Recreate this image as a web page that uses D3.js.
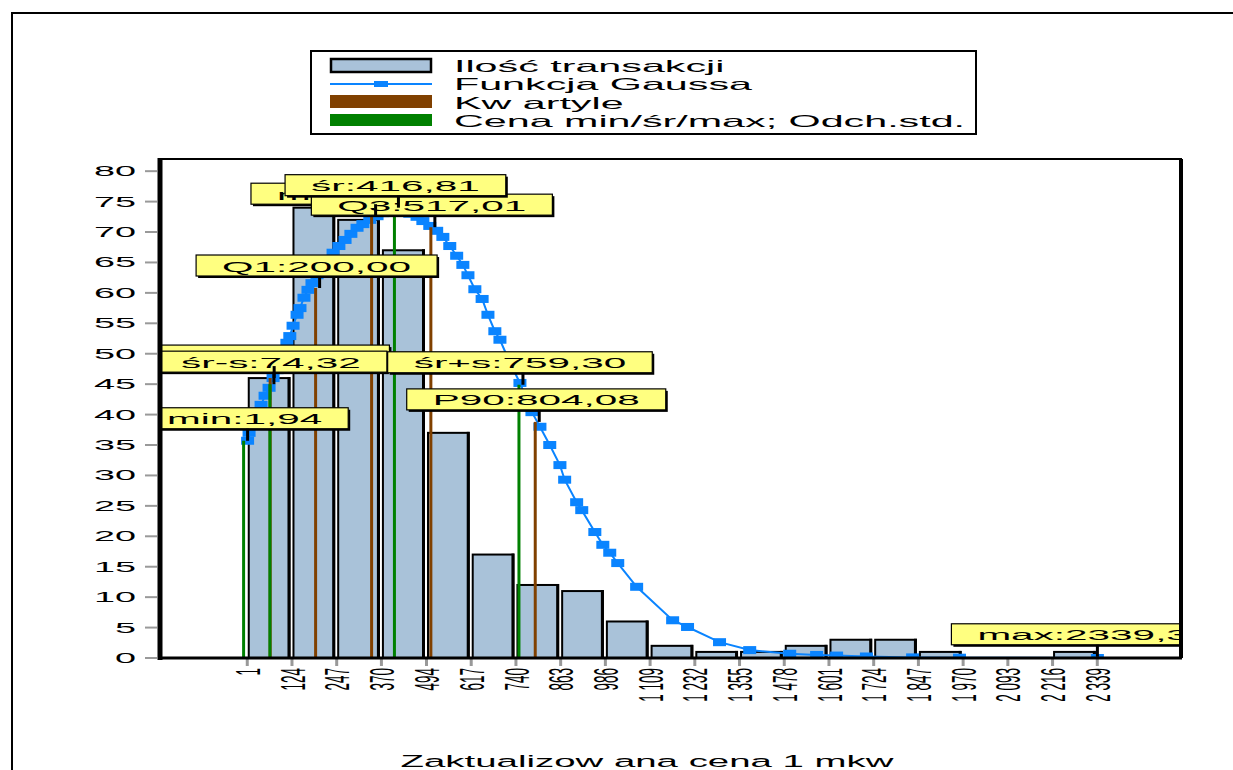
<!DOCTYPE html>
<html>
<head>
<meta charset="utf-8">
<script src="https://cdn.jsdelivr.net/npm/d3@7"></script>
<style>
  body { margin: 0; background: #fff; }
  svg { display: block; font-family: "Liberation Sans", Arial, sans-serif; }
</style>
</head>
<body>
<svg width="1233" height="770"></svg>
<script>
// histogram bins (edges as printed on the x axis) and counts
const binEdges = [1, 124, 247, 370, 494, 617, 740, 863, 986, 1109, 1232, 1355, 1478, 1601, 1724, 1847, 1970, 2093, 2216, 2339];
const tickLabels = ["1", "124", "247", "370", "494", "617", "740", "863", "986", "1 109", "1 232", "1 355", "1 478", "1 601", "1 724", "1 847", "1 970", "2 093", "2 216", "2 339"];
const binCounts = [46, 74, 72, 67, 37, 17, 12, 11, 6, 2, 1, 1, 2, 3, 3, 1, 0, 0, 1];

// gaussian curve points
const gaussPrice = [1.94, 6, 17, 28, 39, 50, 61, 72, 83, 94, 102, 110, 118, 127, 138, 146, 157, 168, 179, 193, 207, 220, 237, 253, 270, 286, 303, 319, 338, 358, 374, 393, 413, 432, 448, 468, 484, 503, 522, 539, 558, 577, 594, 608, 627, 647, 663, 682, 696, 723, 751, 784, 806, 833, 861, 874, 907, 921, 957, 979, 998, 1020, 1072, 1171, 1212, 1300, 1383, 1493, 1567, 1622, 1704, 1831, 1960, 2339.3];
const gaussCount = [35.7, 37.0, 38.3, 39.9, 41.6, 43.1, 44.4, 46.0, 47.3, 49.0, 50.3, 51.8, 52.9, 54.6, 56.4, 57.5, 59.2, 60.5, 61.6, 62.9, 64.1, 65.4, 66.6, 67.7, 68.7, 69.7, 70.7, 71.3, 72.0, 72.6, 73.1, 73.3, 73.4, 73.3, 73.0, 72.5, 71.8, 71.0, 70.2, 69.2, 67.7, 66.1, 64.6, 62.9, 60.6, 59.0, 56.4, 53.7, 52.3, 48.6, 45.2, 40.4, 38.0, 35.0, 31.7, 29.3, 25.6, 24.3, 20.7, 18.6, 17.3, 15.6, 11.7, 6.2, 5.1, 2.6, 1.3, 0.7, 0.5, 0.4, 0.25, 0.1, 0.05, 0];

// quartile markers (brown)
const quartLabels = ["P10:75,00", "Q1:200,00", "me:354,00", "Q3:517,01", "P90:804,08"];
const quartValues = [75, 200, 354, 517.01, 804.08];
const quartTops = [46.0, 60.8, 72.6, 70.8, 38.8];

// price markers (green)
const priceLabels = ["min:1,94", "śr-s:74,32", "śr:416,81", "śr+s:759,30", "max:2339,30"];
const priceValues = [1.94, 74.32, 416.81, 759.30, 2339.30];
const priceTops = [35.7, 45.0, 74.0, 44.9, 0.2];

const yTicks = d3.range(0, 81, 5);

const legendItems = ["Ilość transakcji", "Funkcja Gaussa", "Kw artyle", "Cena min/śr/max; Odch.std."];

const barFill = "#a9c2d9";
const blue = "#0a84ff";
const brown = "#804000";
const green = "#008000";
const labelFill = "#ffff80";

const svg = d3.select("svg");
const plot = { left: 160, right: 1182, top: 159, bottom: 658 };

const x = d3.scaleLinear().domain([-239, 2572]).range([plot.left, plot.right]);
const y = d3.scaleLinear().domain([0, 82]).range([plot.bottom, plot.top]);

function wideText(g, str, tx, ty, sx, size, anchor) {
  return g.append("text")
    .attr("transform", `translate(${tx},${ty}) scale(${sx},1)`)
    .attr("text-anchor", anchor || "start")
    .attr("font-size", size)
    .attr("fill", "#000")
    .text(str);
}

// outer frame
svg.append("path").attr("d", "M12,770 L12,13 L1233,13")
  .attr("fill", "none").attr("stroke", "#000").attr("stroke-width", 2);

// legend
const lg = svg.append("g");
lg.append("rect").attr("x", 311).attr("y", 51).attr("width", 665).attr("height", 83)
  .attr("fill", "#fff").attr("stroke", "#000").attr("stroke-width", 2);
lg.append("rect").attr("x", 331).attr("y", 59).attr("width", 100).attr("height", 13)
  .attr("fill", barFill).attr("stroke", "#000").attr("stroke-width", 2.5);
lg.append("line").attr("x1", 330).attr("x2", 432).attr("y1", 84).attr("y2", 84)
  .attr("stroke", blue).attr("stroke-width", 2);
lg.append("rect").attr("x", 374).attr("y", 81).attr("width", 14).attr("height", 6).attr("fill", blue);
lg.append("rect").attr("x", 330).attr("y", 95).attr("width", 102).attr("height", 13).attr("fill", brown);
lg.append("rect").attr("x", 330).attr("y", 114).attr("width", 102).attr("height", 12).attr("fill", green);
legendItems.forEach((t, i) => wideText(lg, t, 454, 72 + i * 18.3, 2.5, 16.5));

// plot frame
svg.append("line").attr("x1", plot.left).attr("x2", plot.right).attr("y1", plot.top).attr("y2", plot.top)
  .attr("stroke", "#000").attr("stroke-width", 2);

svg.append("clipPath").attr("id", "plotclip").append("rect")
  .attr("x", plot.left + 2).attr("y", plot.top).attr("width", plot.right - plot.left - 4).attr("height", plot.bottom - plot.top);

const pg = svg.append("g").attr("clip-path", "url(#plotclip)");

// bars
const bins = binCounts.map((c, i) => ({ x0: binEdges[i], x1: binEdges[i + 1], c }));
const bars = pg.selectAll("g.bar").data(bins.filter(d => d.c > 0)).enter().append("g").attr("class", "bar");
bars.append("rect")
  .attr("x", d => x(d.x0) + 1.5)
  .attr("y", d => y(d.c))
  .attr("width", d => x(d.x1) - x(d.x0) - 4)
  .attr("height", d => y(0) - y(d.c))
  .attr("fill", barFill).attr("stroke", "#000").attr("stroke-width", 2);
bars.append("line")
  .attr("x1", d => x(d.x1) - 3).attr("x2", d => x(d.x1) - 3)
  .attr("y1", d => y(d.c) - 1).attr("y2", y(0))
  .attr("stroke", "#000").attr("stroke-width", 3);

// gaussian curve
const gauss = gaussPrice.map((p, i) => ({ p, c: gaussCount[i] }));
pg.append("path").datum(gauss)
  .attr("fill", "none").attr("stroke", blue).attr("stroke-width", 2)
  .attr("d", d3.line().x(d => x(d.p)).y(d => y(d.c)));
pg.selectAll("rect.mk").data(gauss).enter().append("rect").attr("class", "mk")
  .attr("x", d => x(d.p) - 6.5).attr("y", d => y(d.c) - 4)
  .attr("width", 13).attr("height", 8).attr("fill", blue);

// marker lines and labels
const quart = quartLabels.map((t, i) => ({ t, v: quartValues[i], top: quartTops[i], col: brown }));
const price = priceLabels.map((t, i) => ({ t, v: priceValues[i], top: priceTops[i], col: green }));
const marks = quart.concat(price);

pg.selectAll("line.vl").data(marks).enter().append("line").attr("class", "vl")
  .attr("x1", d => x(d.v) - 4).attr("x2", d => x(d.v) - 4)
  .attr("y1", y(0)).attr("y2", d => y(d.top))
  .attr("stroke", d => d.col).attr("stroke-width", 3);

marks.forEach(d => {
  const g = pg.append("g");
  const cx = x(d.v) - 3;
  const bottom = y(d.top) - 12;
  const txt = wideText(g, d.t, cx, bottom - 4.5, 2.7, 15, "middle");
  const w = txt.node().getComputedTextLength() * 2.7 + 52;
  g.insert("rect", "text").attr("x", cx - w / 2 + 2).attr("y", bottom - 21 + 2)
    .attr("width", w).attr("height", 21).attr("fill", "#000");
  g.insert("rect", "text").attr("x", cx - w / 2).attr("y", bottom - 21)
    .attr("width", w).attr("height", 21)
    .attr("fill", labelFill).attr("stroke", "#000").attr("stroke-width", 1.2);
});

pg.selectAll("line.seg").data(marks).enter().append("line").attr("class", "seg")
  .attr("x1", d => x(d.v)).attr("x2", d => x(d.v))
  .attr("y1", d => y(d.top) - 12).attr("y2", d => y(d.top))
  .attr("stroke", "#000").attr("stroke-width", 3);

// right frame, axes
svg.append("line").attr("x1", plot.right - 1).attr("x2", plot.right - 1).attr("y1", plot.top).attr("y2", plot.bottom)
  .attr("stroke", "#000").attr("stroke-width", 4);

const yg = svg.append("g");
yg.selectAll("line").data(yTicks).enter().append("line")
  .attr("x1", 145).attr("x2", 157).attr("y1", d => y(d)).attr("y2", d => y(d))
  .attr("stroke", "#999").attr("stroke-width", 2);
yTicks.forEach(t => wideText(yg, String(t), 136, y(t) + 5, 2.7, 14, "end"));
yg.append("line").attr("x1", plot.left).attr("x2", plot.left).attr("y1", plot.top - 1).attr("y2", plot.bottom + 2)
  .attr("stroke", "#000").attr("stroke-width", 5);

const xg = svg.append("g");
xg.selectAll("line").data(binEdges).enter().append("line")
  .attr("x1", d => x(d)).attr("x2", d => x(d)).attr("y1", plot.bottom).attr("y2", plot.bottom + 8)
  .attr("stroke", "#999").attr("stroke-width", 3);
xg.append("line").attr("x1", plot.left - 2).attr("x2", plot.right).attr("y1", plot.bottom).attr("y2", plot.bottom)
  .attr("stroke", "#000").attr("stroke-width", 3);
binEdges.forEach((e, i) => {
  xg.append("text")
    .attr("transform", `translate(${x(e)},668) scale(2.6,1) rotate(-90)`)
    .attr("text-anchor", "end")
    .attr("dy", "0.36em")
    .attr("font-size", 13.5)
    .text(tickLabels[i]);
});

// axis title
wideText(svg, "Zaktualizow ana cena 1 mkw", 647, 767, 2.26, 17, "middle");
</script>
</body>
</html>
